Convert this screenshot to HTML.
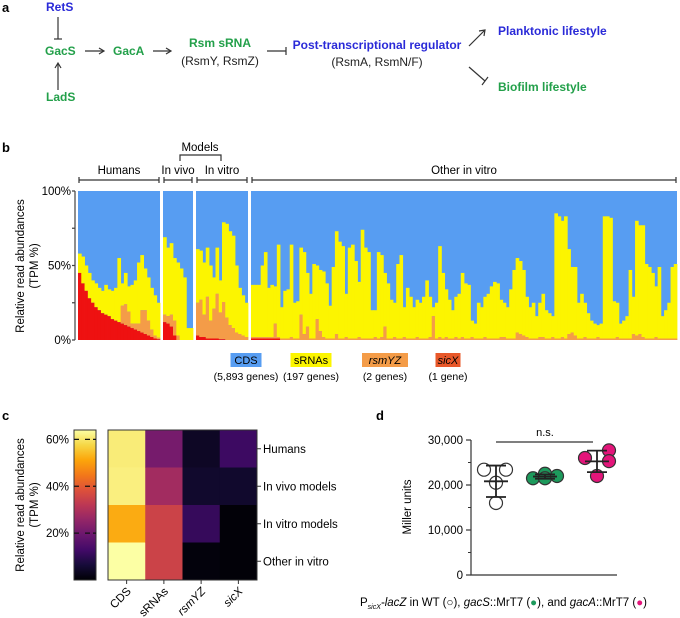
<!DOCTYPE html>
<html><head><meta charset="utf-8"><style>
html,body{margin:0;padding:0;background:#fff}
svg{display:block;font-family:"Liberation Sans",Arial,sans-serif}
</style></head><body>
<svg id="fig" width="680" height="618" viewBox="0 0 680 618">
<!-- Panel a -->
<g font-weight="bold" font-size="12">
<text x="2" y="12" font-size="13" fill="#000">a</text>
<text x="46" y="11" fill="#2a2ad8">RetS</text>
<text x="45" y="55" fill="#23a04a">GacS</text>
<text x="46" y="101" fill="#23a04a">LadS</text>
<text x="113" y="55" fill="#23a04a">GacA</text>
<text x="220" y="47" fill="#23a04a" text-anchor="middle">Rsm sRNA</text>
<text x="220" y="65" fill="#222" font-weight="normal" text-anchor="middle">(RsmY, RsmZ)</text>
<text x="377" y="49" fill="#2a2ad8" text-anchor="middle">Post-transcriptional regulator</text>
<text x="377" y="66" fill="#222" font-weight="normal" text-anchor="middle">(RsmA, RsmN/F)</text>
<text x="498" y="35" fill="#2a2ad8">Planktonic lifestyle</text>
<text x="498" y="91" fill="#23a04a">Biofilm lifestyle</text>
<g stroke="#333" stroke-width="1.2" fill="none">
<line x1="58" y1="17" x2="58" y2="39"/><line x1="54" y1="39" x2="62" y2="39"/>
<line x1="58" y1="90" x2="58" y2="64"/><polyline points="55,68 58,63 61,68"/>
<line x1="85" y1="51" x2="103" y2="51"/><polyline points="99,48 104,51 99,54"/>
<line x1="153" y1="51" x2="170" y2="51"/><polyline points="166,48 171,51 166,54"/>
<line x1="267" y1="51" x2="286" y2="51"/><line x1="286" y1="47" x2="286" y2="55"/>
<line x1="469" y1="46" x2="485" y2="30"/><polyline points="479,31 485,30 484,36"/>
<line x1="469" y1="67" x2="485" y2="81"/><line x1="482" y1="85" x2="488" y2="77"/>
</g>
</g>
<!-- Panel b -->
<g id="panelB">
<text x="2" y="152" font-size="13" font-weight="bold">b</text>
</g>
<!-- Panel c -->
<g id="panelC">
<text x="2" y="420" font-size="13" font-weight="bold">c</text>
</g>
<!-- Panel d -->
<g id="panelD">
<text x="376" y="420" font-size="13" font-weight="bold">d</text>
</g>
</svg>
<script>
// ===== Panel b data =====
const groupNames = ["Humans","In vivo","In vitro","Other in vitro"];
const humansTotal = [58,56,50,45,40,38,35,33,37,34,33,35,55,38,45,36,37,40,52,57,48,42,35,30,25];
const humansSicX = [45,38,33,28,25,22,20,18,17,16,14,13,12,11,10,9,8,7,6,5,4,3,2,1,0.5];
const humansRsm = [0,0,0,0,0,0,0,0,0,0,0,0,0,12,14,10,3,4,5,15,16,10,5,2,1];
const vivoTotal = [69,62,65,55,52,48,42,8,8];
const vivoSicX = [12,11,9,3,0,0,0,0,0];
const vivoRsm = [5,5,8,10,3,0,0,0,0];
const vitroTotal = [61,60,52,62,50,42,62,40,79,78,73,70,50,35,30,25];
const vitroSicX = [3,2,2,1,1,1,1,0.5,0.5,0,0,0,0,0,0,0];
const vitroRsm = [22,25,15,28,12,20,30,18,25,15,10,8,5,4,3,2];
const otherTotal = [37,37,37,50,59,35,37,36,64,22,33,34,64,25,26,62,59,45,31,51,50,47,46,38,23,49,73,66,63,31,
62,64,53,39,74,62,59,20,20,59,57,45,38,27,25,51,57,22,35,29,22,27,25,29,40,29,22,25,63,45,34,27,20,29,31,45,38,37,13,11,25,22,29,31,36,39,38,27,25,22,34,47,55,53,47,29,22,25,16,25,31,20,18,16,85,83,80,83,61,49,49,25,31,25,18,13,11,10,11,83,83,82,26,25,11,13,16,47,29,80,77,77,51,49,45,36,49,16,20,25,49,51];
const otherSicX = [1,1,1,1,1,1,1,1,1];
const otherRsm = [1,1,1,1,1,1,1,10,1,1, 1,1,2,1,1,17,4,9,1,1, 14,6,2,1,1,1,4,1,1,2,
1,1,1,2,1,1,1,1,2,1, 2,9,1,1,2,1,1,2,1,1, 1,2,1,1,1,2,16,1,2,1,
2,1,1,2,1,2,1,1,2,1, 1,1,2,1,1,1,1,2,2,1, 1,1,5,4,3,2,1,1,1,2, 2,1,1,2,1,1,2,1,4,5, 3,1,1,2,1,1,1,2,1,1, 1,1,1,2,1,1,1,1,4,3, 4,2,1,1,1,2,1,1,1,1,1,1];
const yTicksB = [0,50,100];
const legendNames = ["CDS","sRNAs","rsmYZ","sicX"];
const legendCounts = ["(5,893 genes)","(197 genes)","(2 genes)","(1 gene)"];

// ===== Panel c data =====
const heatRows = ["Humans","In vivo models","In vitro models","Other in vitro"];
const heatCols = ["CDS","sRNAs","rsmYZ","sicX"];
const heatCDS = [61,61.5,52,64];
const heatSRNA = [21,28,35,35];
const heatRsm = [4,5,11,1];
const heatSicX = [12,5,0.5,0.5];
const cbTicks = [20,40,60];

// ===== Panel d data =====
const dGroups = ["WT","gacS::MrT7","gacA::MrT7"];
const wtValues = [23400,23400,20500,16000];
const gacSValues = [21500,22500,21500,22000];
const gacAValues = [26000,27700,25300,22000];
const dTicks = [0,10000,20000,30000];

const NS="http://www.w3.org/2000/svg";
function mk(parent,tag,attrs,text){const e=document.createElementNS(NS,tag);for(const k in attrs)e.setAttribute(k,attrs[k]);if(text!==undefined)e.textContent=text;parent.appendChild(e);return e;}

// ---- Panel b ----
(function(){
const g=document.getElementById('panelB');
const yTop=191,yBot=340;
const y=v=>yBot-(v/100)*(yBot-yTop);
const C={cds:"#579df2",srna:"#fcf500",rsm:"#f49c48",sic:"#ee1111"};
const groups=[
 {x0:78,x1:160,tot:humansTotal,sic:humansSicX,rsm:humansRsm},
 {x0:163,x1:193,tot:vivoTotal,sic:vivoSicX,rsm:vivoRsm},
 {x0:196,x1:248,tot:vitroTotal,sic:vitroSicX,rsm:vitroRsm},
 {x0:251,x1:677,tot:otherTotal,sic:otherSicX,rsm:otherRsm}];
groups.forEach((gr,gi)=>{
 const bg=mk(g,'rect',{x:gr.x0,y:yTop,width:gr.x1-gr.x0,height:yBot-yTop,fill:C.cds});
 
 
 const n=gr.tot.length,w=(gr.x1-gr.x0)/n;
 for(let i=0;i<n;i++){
  const sic=gr.sic[i]||0,rsm=gr.rsm[i]||0,tot=gr.tot[i];
  const bx=gr.x0+i*w;
  const r1=mk(g,'rect',{x:bx,y:y(tot),width:w+0.4,height:y(sic+rsm)-y(tot),fill:C.srna});
  
  
  if(rsm>0){const r2=mk(g,'rect',{x:bx,y:y(sic+rsm),width:w+0.4,height:y(sic)-y(sic+rsm),fill:C.rsm});
  
  }
  if(sic>0){const r3=mk(g,'rect',{x:bx,y:y(sic),width:w+0.4,height:yBot-y(sic),fill:C.sic});
  
  }
 }
 const br=mk(g,'path',{d:`M${gr.x0+1},177 v6 M${gr.x0+1},180 H${gr.x1-1} M${gr.x1-1},177 v6`,stroke:"#333","stroke-width":1.2,fill:"none"});
 
 
 const t=mk(g,'text',{x:(gr.x0+gr.x1)/2,y:174,"font-size":11.5,"text-anchor":"middle"},groupNames[gi]);
 
 
});
const mb=mk(g,'path',{d:"M180,161 v-6 H221 v6",stroke:"#333","stroke-width":1.2,fill:"none"});


const mt=mk(g,'text',{x:200,y:151,"font-size":11.5,"text-anchor":"middle"},"Models");


const ax=mk(g,'path',{d:`M75,${yTop} V${yBot} M72,${yTop} h3 M72,${y(25)} h3 M72,${y(50)} h3 M72,${y(75)} h3 M72,${yBot} h3`,stroke:"#444","stroke-width":1.2,fill:"none"});


yTicksB.forEach(v=>{const t=mk(g,'text',{x:71,y:y(v)+4,"font-size":11.5,"text-anchor":"end"},v+"%");
 
 });
const yt=mk(g,'text',{transform:"translate(24,266) rotate(-90)","font-size":11.5,"text-anchor":"middle"});


mk(yt,'tspan',{x:0,dy:0},"Relative read abundances");
mk(yt,'tspan',{x:0,dy:14},"(TPM %)");
const lcol=[C.cds,C.srna,C.rsm,"#e8582a"];
const lx=[246,311,385,448],lw=[31,41,46,25];
legendNames.forEach((nm,i)=>{
 const r=mk(g,'rect',{x:lx[i]-lw[i]/2,y:353,width:lw[i],height:14,fill:lcol[i]});
 
 
 const t=mk(g,'text',{x:lx[i],y:364,"font-size":11,"text-anchor":"middle","font-style":(i>=2?"italic":"normal")},nm);
 
 
 const c=mk(g,'text',{x:lx[i],y:380,"font-size":10.5,"text-anchor":"middle"},legendCounts[i]);
 
 
});
})();

// ---- Panel c ----
const infStops=["#000004","#160b39","#420a68","#6a176e","#932667","#bc3754","#dd513a","#f37819","#fca50a","#f6d746","#fcffa4"];
function hex2(h){return [1,3,5].map(i=>parseInt(h.substr(i,2),16));}
function inferno(t){t=Math.max(0,Math.min(1,t));const p=t*10,i=Math.min(9,Math.floor(p)),f=p-i;const a=hex2(infStops[i]),b=hex2(infStops[i+1]);return "rgb("+a.map((v,k)=>Math.round(v+(b[k]-v)*f)).join(",")+")";}
(function(){
const g=document.getElementById('panelC');
const vmax=64,cbTop=430,cbBot=580;
const cy=v=>cbBot-(v/vmax)*(cbBot-cbTop);
const defs=mk(g,'defs',{});
const lg=mk(defs,'linearGradient',{id:"infg",x1:0,y1:1,x2:0,y2:0});
infStops.forEach((c,i)=>mk(lg,'stop',{offset:(i*10)+"%","stop-color":c}));
const cb=mk(g,'rect',{x:74,y:cbTop,width:22,height:cbBot-cbTop,fill:"url(#infg)",stroke:"#333","stroke-width":1});


cbTicks.forEach(v=>{
 const l=mk(g,'path',{d:`M74,${cy(v)} h5 M85,${cy(v)} h5 M96,${cy(v)} h-3`,stroke:"#111","stroke-width":1.3});
 
 
 const t=mk(g,'text',{x:69,y:cy(v)+4,"font-size":11.5,"text-anchor":"end"},v+"%");
 
 
});
const yt=mk(g,'text',{transform:"translate(24,505) rotate(-90)","font-size":11.5,"text-anchor":"middle"});


mk(yt,'tspan',{x:0,dy:0},"Relative read abundances");
mk(yt,'tspan',{x:0,dy:14},"(TPM %)");
const cols=[heatCDS,heatSRNA,heatRsm,heatSicX];
const hx=108,hw=37.25,hy=430,hh=37.5;
cols.forEach((arr,ci)=>arr.forEach((v,ri)=>{
 const r=mk(g,'rect',{x:hx+ci*hw,y:hy+ri*hh,width:hw+0.3,height:hh+0.3,fill:inferno(v/vmax)});
 
 
}));
const fr=mk(g,'rect',{x:hx,y:hy,width:hw*4,height:hh*4,fill:"none",stroke:"#333","stroke-width":1});


heatRows.forEach((nm,ri)=>{
 const yy=hy+ri*hh+hh/2;
 mk(g,'line',{x1:hx+hw*4,y1:yy,x2:hx+hw*4+4,y2:yy,stroke:"#333"});
 const t=mk(g,'text',{x:hx+hw*4+6,y:yy+4,"font-size":11.5},nm);
 
 
});
heatCols.forEach((nm,ci)=>{
 const xx=hx+ci*hw+hw/2;
 mk(g,'line',{x1:xx,y1:580,x2:xx,y2:584,stroke:"#333"});
 const t=mk(g,'text',{transform:`translate(${xx+5},${592}) rotate(-45)`,"font-size":11.5,"text-anchor":"end","font-style":(ci>=2?"italic":"normal")},nm);
 
 
});
})();

// ---- Panel d ----
(function(){
const g=document.getElementById('panelD');
const yT=440,yB=575,x0=471;
const y=v=>yB-(v/30000)*(yB-yT);
const gx=[496,545,597];
const ax=mk(g,'path',{d:`M${x0},${yT} V${yB} H617`,stroke:"#333","stroke-width":1.2,fill:"none"});


dTicks.forEach(v=>{
 mk(g,'line',{x1:x0-5,y1:y(v),x2:x0,y2:y(v),stroke:"#333","stroke-width":1.2});
 const t=mk(g,'text',{x:x0-8,y:y(v)+4,"font-size":11.5,"text-anchor":"end"},v.toLocaleString('en-US'));
 
 
});
[5000,15000,25000].forEach(v=>mk(g,'line',{x1:x0-3,y1:y(v),x2:x0,y2:y(v),stroke:"#333"}));
const yt=mk(g,'text',{transform:"translate(411,507) rotate(-90)","font-size":11.5,"text-anchor":"middle"},"Miller units");


const ns=mk(g,'line',{x1:496,y1:442,x2:593,y2:442,stroke:"#333","stroke-width":1.2});


const nt=mk(g,'text',{x:545,y:436,"font-size":11,"text-anchor":"middle"},"n.s.");


const sets=[wtValues,gacSValues,gacAValues];
const fills=["#fff","#1d9a5c","#e3157a"];
const offs=[[-12,10,0,0],[-12,0,0,12],[-12,12,12,0]];
sets.forEach((arr,gi)=>{
 const mean=arr.reduce((a,b)=>a+b,0)/arr.length;
 const sd=Math.sqrt(arr.reduce((a,b)=>a+(b-mean)**2,0)/(arr.length-1));
 arr.forEach((v,i)=>{
  const c=mk(g,'circle',{cx:gx[gi]+offs[gi][i],cy:y(v),r:6.5,fill:fills[gi],stroke:"#333","stroke-width":1.2});
  
  
 });
 const e=mk(g,'path',{d:`M${gx[gi]},${y(mean+sd)} V${y(mean-sd)} M${gx[gi]-10},${y(mean+sd)} h20 M${gx[gi]-10},${y(mean-sd)} h20 M${gx[gi]-12},${y(mean)} h24`,stroke:"#222","stroke-width":1.8,fill:"none"});
 
 
});
const cap=mk(g,'text',{x:360,y:606,"font-size":11.5});


mk(cap,'tspan',{},"P");
mk(cap,'tspan',{"font-size":7,"font-style":"italic",dy:3},"sicX");
mk(cap,'tspan',{dy:-3,"font-style":"italic"},"-lacZ");
mk(cap,'tspan',{}," in WT (");
mk(cap,'tspan',{},"\u25CB");
mk(cap,'tspan',{},"), ");
mk(cap,'tspan',{"font-style":"italic"},"gacS");
mk(cap,'tspan',{},"::MrT7 (");
mk(cap,'tspan',{fill:"#1d9a5c"},"\u25CF");
mk(cap,'tspan',{},"), and ");
mk(cap,'tspan',{"font-style":"italic"},"gacA");
mk(cap,'tspan',{},"::MrT7 (");
mk(cap,'tspan',{fill:"#e3157a"},"\u25CF");
mk(cap,'tspan',{},")");
})();
</script>
</body></html>
